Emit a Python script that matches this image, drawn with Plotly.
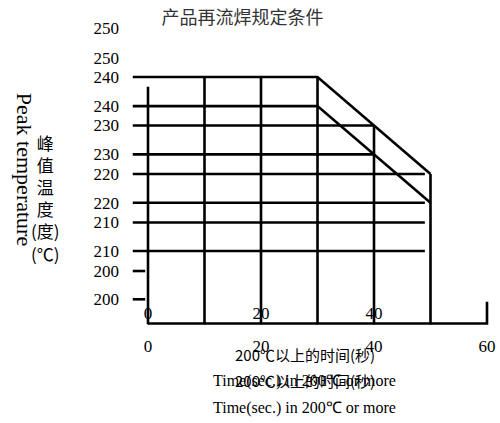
import plotly.graph_objects as go

# Peak-temperature limits (°C) and time above 200 °C (s)
peak_levels = [240, 230, 220, 210, 200]
hold_time_at_peak = 30          # seconds the 240 °C limit is held
slope_end_time = 50             # the limit falls to 220 °C here
slope_end_temp = 220
level_end_times = [30, 40, 49, 49, -0.5]   # where each horizontal level stops
level_start = -2.7
grid_times = [0, 10, 20, 30, 40, 50]
grid_tops = [238, 240, 240, 240, 230, 220]
axis_time = [0, 60]
temp_ticks = [200, 210, 220, 230, 240, 250]
time_ticks = [0, 20, 40, 60]

title_text = "产品再流焊规定条件"
ylabel_en = "Peak temperature"
ylabel_cn = ["峰", "值", "温", "度", "(度)", "(℃)"]
xlabel_cn = "200℃以上的时间(秒)"
xlabel_en = "Time(sec.) in 200℃ or more"

line = dict(color="black", width=2.6)
fig = go.Figure()


def draw_limits(yref):
    # horizontal limit levels
    for lvl, end in zip(peak_levels, level_end_times):
        if lvl == 240:
            xs = [level_start, hold_time_at_peak, slope_end_time]
            ys = [lvl, lvl, slope_end_temp]
        else:
            xs = [level_start, end]
            ys = [lvl, lvl]
        fig.add_trace(go.Scatter(x=xs, y=ys, mode="lines", line=line,
                                 yaxis=yref, hoverinfo="skip", showlegend=False))


# two overlaid temperature scales
draw_limits("y2")
draw_limits("y")

# vertical time grid
for t, top in zip(grid_times, grid_tops):
    fig.add_trace(go.Scatter(x=[t, t], y=[top, 189], mode="lines", line=line,
                             yaxis="y2", hoverinfo="skip", showlegend=False))

# time axis with end tick
fig.add_trace(go.Scatter(x=axis_time + [axis_time[-1]], y=[195, 195, 199.5],
                         mode="lines", line=line, yaxis="y",
                         hoverinfo="skip", showlegend=False))

serif = "Liberation Serif"
tick_font = dict(family=serif, size=17, color="black")

fig.update_layout(
    width=500, height=423,
    margin=dict(l=120, r=8, t=0, b=98),
    paper_bgcolor="white", plot_bgcolor="white",
    title=dict(text=title_text, x=0.485, xref="container", y=0.957,
               yref="container", yanchor="middle", xanchor="center",
               font=dict(family="Noto Sans CJK SC", size=18, color="#333")),
    xaxis=dict(range=[-4.956, 60.885], showgrid=False, zeroline=False,
               showline=False, tickvals=time_ticks, ticks="",
               ticklabelstandoff=9, tickfont=tick_font),
    xaxis2=dict(overlaying="x", matches="x", anchor="free", position=0.098,
                showgrid=False, zeroline=False, showline=False,
                tickvals=time_ticks[:-1], ticks="", ticklabelstandoff=8,
                tickfont=tick_font),
    yaxis=dict(range=[194.68, 261.97], showgrid=False, zeroline=False,
               showline=False, tickvals=temp_ticks, ticks="",
               tickfont=tick_font),
    yaxis2=dict(range=[188.87, 255.88], overlaying="y", side="left",
                showgrid=False, zeroline=False, showline=False,
                tickvals=temp_ticks, ticks="", tickfont=tick_font),
)

# dummy trace so the second time axis is rendered
fig.add_trace(go.Scatter(x=[None], y=[None], xaxis="x2", yaxis="y",
                         showlegend=False, hoverinfo="skip"))

fig.add_annotation(text=ylabel_en, xref="paper", yref="paper",
                   x=-0.255, y=0.48, textangle=90, showarrow=False,
                   xanchor="center", yanchor="middle",
                   font=dict(family=serif, size=22, color="black"))
fig.add_annotation(text="<br>".join(ylabel_cn), xref="paper", yref="paper",
                   x=-0.2, y=0.39, showarrow=False,
                   xanchor="center", yanchor="middle",
                   font=dict(family="Noto Sans CJK SC", size=17, color="black"))

for txt, yy, fam in [(xlabel_cn, -0.0923, "Noto Sans CJK SC"),
                     (xlabel_cn, -0.172, "Noto Sans CJK SC"),
                     (xlabel_en, -0.172, serif),
                     (xlabel_en, -0.255, serif)]:
    fig.add_annotation(text=txt, xref="paper", yref="paper", x=0.497, y=yy,
                       showarrow=False, xanchor="center", yanchor="middle",
                       font=dict(family=fam, size=15 if fam != serif else 16,
                                 color="black"))

fig.write_html("out.html")
